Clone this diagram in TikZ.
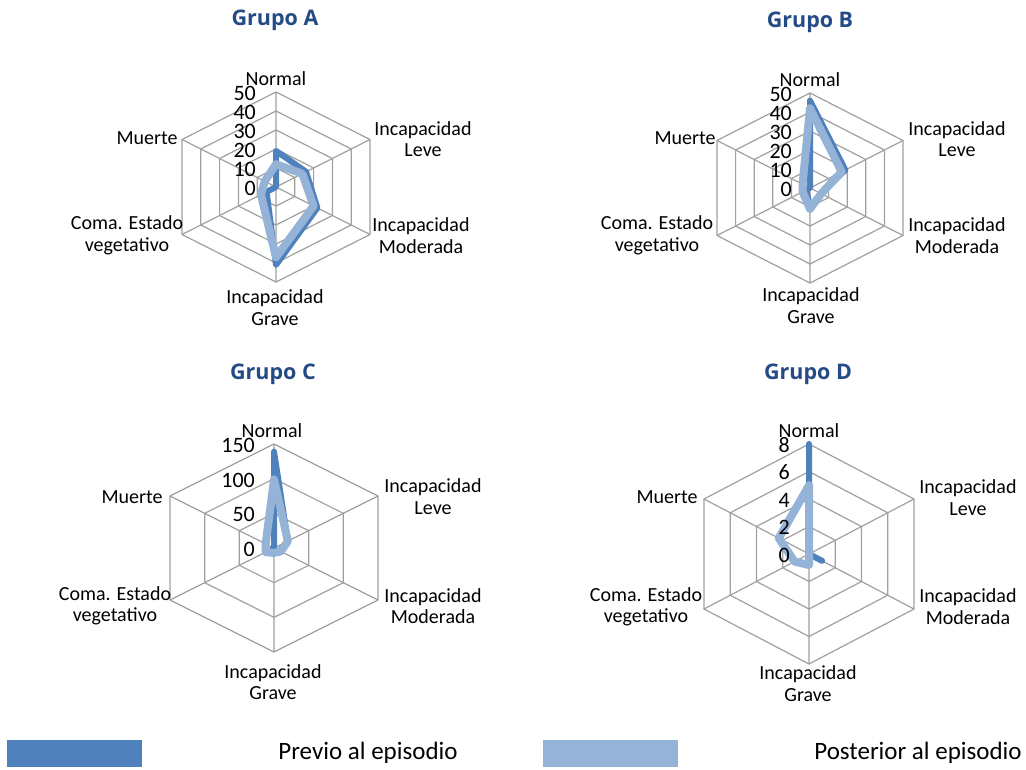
\documentclass[tikz,border=0pt]{standalone}
\usepackage{fontspec}
\setmainfont{Carlito}
\newfontfamily\titlefont{Open Sans}
\definecolor{darkser}{RGB}{79,129,189}
\definecolor{lightser}{RGB}{149,179,215}
\definecolor{gridc}{RGB}{160,160,160}
\definecolor{titlec}{RGB}{37,75,135}
\newcommand{\hexring}[1]{(0,-#1)--(#1,-#1/2)--(#1,#1/2)--(0,#1)--(-#1,#1/2)--(-#1,-#1/2)--cycle}
\newcommand{\spokes}[1]{(0,0)--(0,-#1) (0,0)--(#1,-#1/2) (0,0)--(#1,#1/2) (0,0)--(0,#1) (0,0)--(-#1,#1/2) (0,0)--(-#1,-#1/2)}
\newcommand{\serpath}[6]{(0,-#1)--(#2,-#2/2)--(#3,#3/2)--(0,#4)--(-#5,#5/2)--(-#6,-#6/2)--cycle}
\tikzset{
  gridl/.style={draw=gridc,line width=1.2pt},
  prevl/.style={draw=darkser,line width=6pt,line join=round},
  postl/.style={draw=lightser,line width=8pt,line join=round},
  axlab/.style={inner sep=0pt,align=center,font=\fontsize{20}{21.5}\selectfont},
  ticklab/.style={inner sep=0pt,anchor=east,font=\fontsize{22}{23}\selectfont},
  titlelab/.style={inner sep=0pt,text=titlec,font=\titlefont\bfseries\fontsize{21.5}{22}\selectfont},
  leglab/.style={inner sep=0pt,font=\fontsize{25}{27}\selectfont}
}
\begin{document}
\begin{tikzpicture}[x=1pt,y=-1pt]
\useasboundingbox[fill=white] (0,0) rectangle (1026,769);

% ---------- Grupo A ----------
\node[titlelab] (tA) at (275,20) {Grupo A};
\begin{scope}[shift={(276,187)},x={(1.88pt,0pt)},y={(0pt,-1.9pt)}]
  \foreach \k in {10,20,30,40,50} {\draw[gridl] \hexring{\k};}
  \draw[gridl] \spokes{50};
  \draw[prevl] \serpath{19}{16}{22}{41}{5}{0};
  \draw[postl] \serpath{12}{14}{20}{37}{8}{6};
\end{scope}
\foreach \v/\yy in {50/92,40/111,30/130,20/149,10/168,0/187}
  {\node[ticklab] (tkA\v) at (256,\yy+1) {\v};}
\node[axlab] (nA) at (276,79) {Normal};
\node[axlab] (lA) at (423,139) {Incapacidad\\Leve};
\node[axlab] (mA) at (421,235.5) {Incapacidad\\Moderada};
\node[axlab] (gA) at (275,307.5) {Incapacidad\\Grave};
\node[axlab] (cA) at (127,235.5) {Coma. Estado\\vegetativo};
\node[axlab] (muA) at (147,138) {Muerte};

% ---------- Grupo B ----------
\node[titlelab] (tB) at (810,22) {Grupo B};
\begin{scope}[shift={(810,188)},x={(1.86pt,0pt)},y={(0pt,-1.9pt)}]
  \foreach \k in {10,20,30,40,50} {\draw[gridl] \hexring{\k};}
  \draw[gridl] \spokes{50};
  \draw[prevl] \serpath{46}{19}{6}{10}{2}{0};
  \draw[postl] \serpath{42}{17}{6}{11}{4}{4};
\end{scope}
\foreach \v/\yy in {50/93,40/112,30/131,20/150,10/169,0/188}
  {\node[ticklab] (tkB\v) at (792,\yy+1) {\v};}
\node[axlab] (nB) at (810,80) {Normal};
\node[axlab] (lB) at (957,139) {Incapacidad\\Leve};
\node[axlab] (mB) at (957,235.5) {Incapacidad\\Moderada};
\node[axlab] (gB) at (811,305.5) {Incapacidad\\Grave};
\node[axlab] (cB) at (657,235.5) {Coma. Estado\\vegetativo};
\node[axlab] (muB) at (685,138) {Muerte};

% ---------- Grupo C ----------
\node[titlelab] (tC) at (273,374) {Grupo C};
\begin{scope}[shift={(274,548)},x={(0.6933pt,0pt)},y={(0pt,-0.6933pt)}]
  \foreach \k in {50,100,150} {\draw[gridl] \hexring{\k};}
  \draw[gridl] \spokes{150};
  \draw[prevl] \serpath{139}{20}{8}{5}{3}{0};
  \draw[postl] \serpath{99}{20}{10}{7}{12}{12};
\end{scope}
\foreach \v/\yy in {150/444,100/479,50/513,0/548}
  {\node[ticklab] (tkC\v) at (255,\yy+1) {\v};}
\node[axlab] (nC) at (272,431) {Normal};
\node[axlab] (lC) at (433,496.5) {Incapacidad\\Leve};
\node[axlab] (mC) at (433,606) {Incapacidad\\Moderada};
\node[axlab] (gC) at (273,682) {Incapacidad\\Grave};
\node[axlab] (cC) at (115,606) {Coma. Estado\\vegetativo};
\node[axlab] (muC) at (132,497) {Muerte};

% ---------- Grupo D ----------
\node[titlelab] (tD) at (808,374) {Grupo D};
\begin{scope}[shift={(809,554)},x={(13.125pt,0pt)},y={(0pt,-13.75pt)}]
  \foreach \k in {2,4,6,8} {\draw[gridl] \hexring{\k};}
  \draw[gridl] \spokes{8};
  \draw[prevl] \serpath{8}{0}{1}{0}{0}{0};
  \draw[postl] \serpath{5}{0}{0}{0.8}{1.1}{2.3};
\end{scope}
\foreach \v/\yy in {8/444,6/471.5,4/499,2/526.5,0/554}
  {\node[ticklab] (tkD\v) at (790,\yy+1) {\v};}
\node[axlab] (nD) at (809,431) {Normal};
\node[axlab] (lD) at (968,497.5) {Incapacidad\\Leve};
\node[axlab] (mD) at (968,606.5) {Incapacidad\\Moderada};
\node[axlab] (gD) at (808,683.5) {Incapacidad\\Grave};
\node[axlab] (cD) at (646,607) {Coma. Estado\\vegetativo};
\node[axlab] (muD) at (667,497) {Muerte};

% ---------- Legend ----------
\fill[darkser] (7,740) rectangle (142,767);
\node[leglab] (legP) at (368,753) {Previo al episodio};
\fill[lightser] (543,740) rectangle (678,767);
\node[leglab] (legQ) at (918,753) {Posterior al episodio};
\end{tikzpicture}
\end{document}
